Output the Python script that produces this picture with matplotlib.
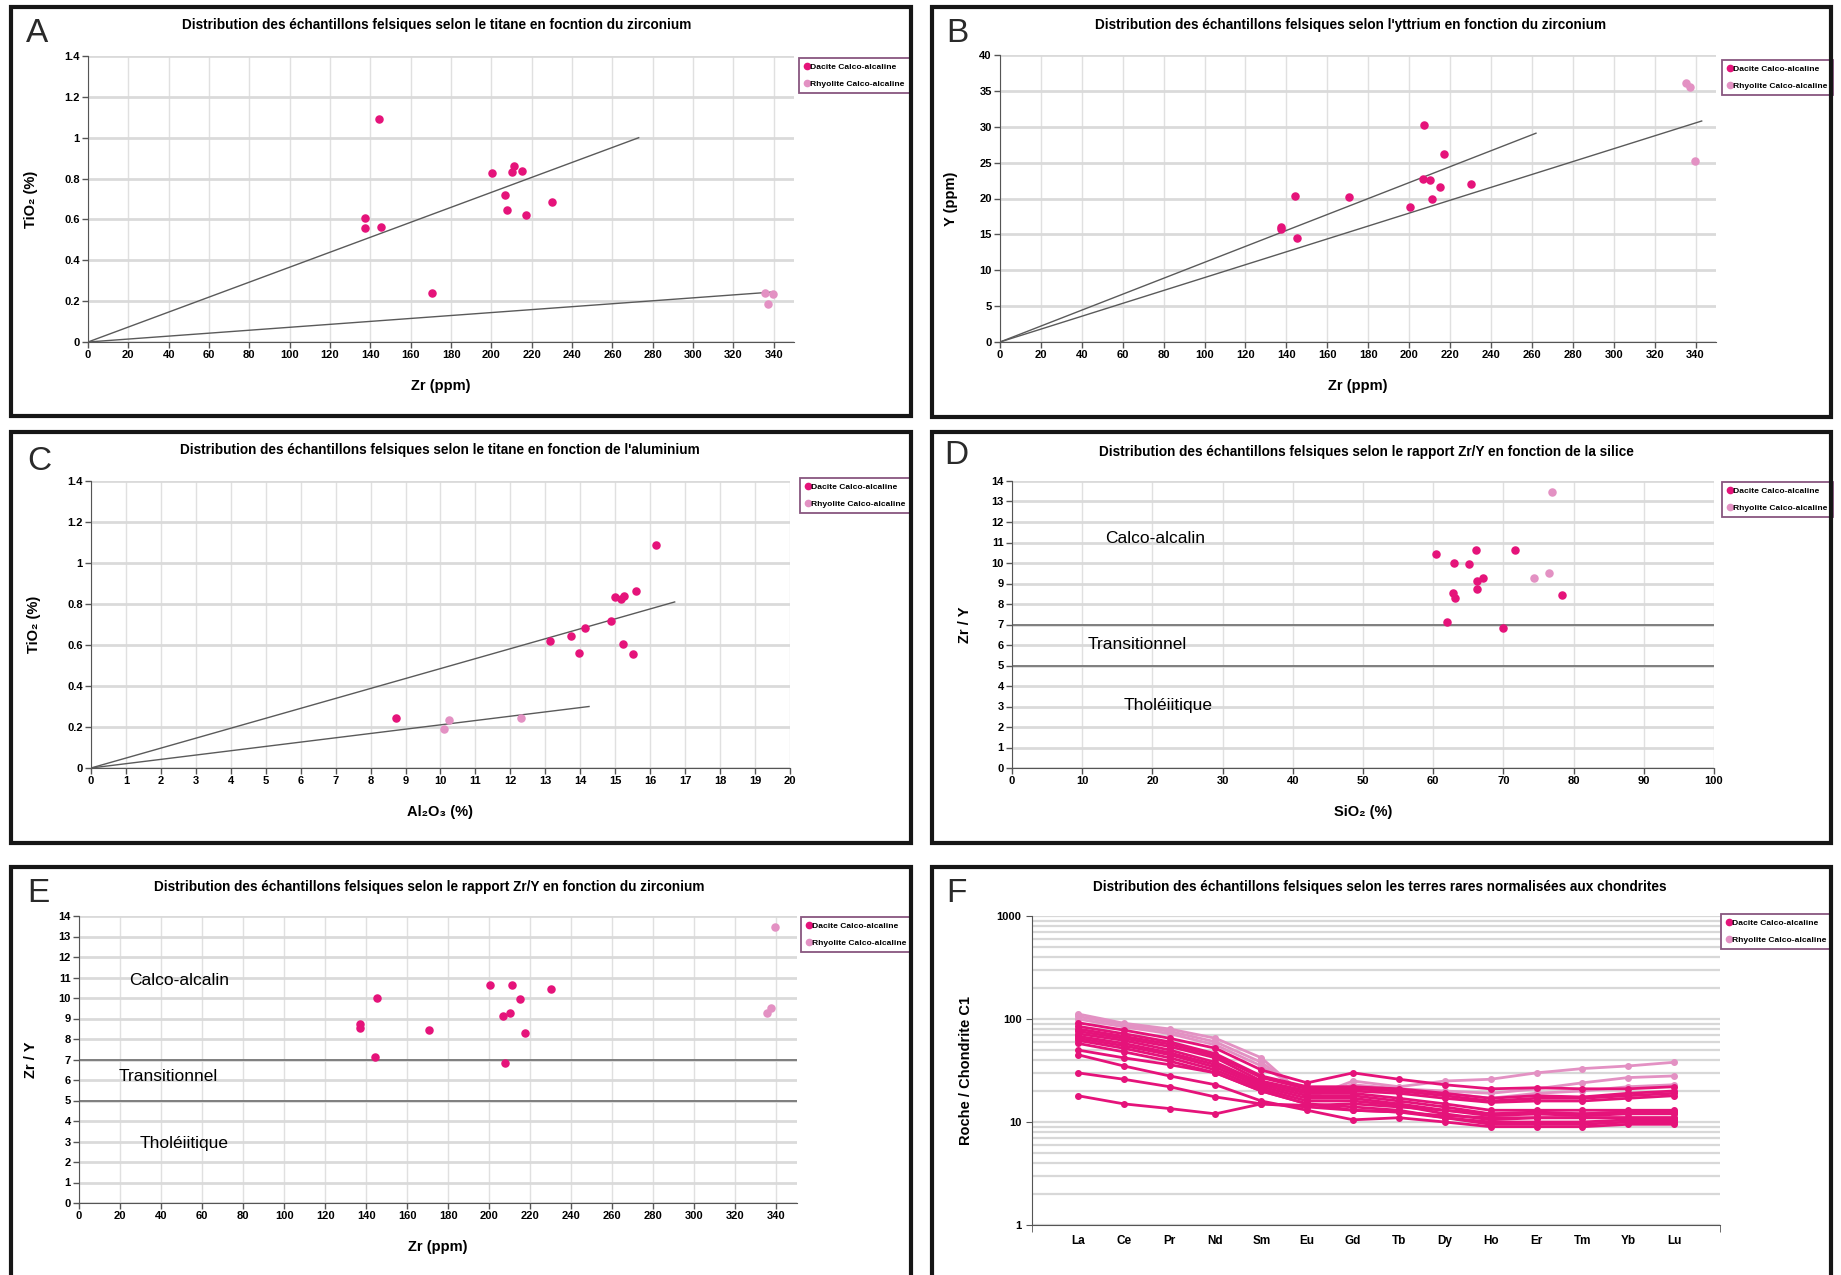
import matplotlib
matplotlib.use("Agg")
import matplotlib.pyplot as plt
from matplotlib import font_manager
from matplotlib.patches import Rectangle
from matplotlib.lines import Line2D
from matplotlib.ticker import LogLocator, NullFormatter
import numpy as np

# ---- data ----
# dacites calco-alcalines (13 samples)
dac_zr = [137.2, 137.2, 144.3, 145.2, 170.4, 200.3, 207.5, 206.9, 210.0, 211.2, 215.2, 217.2, 230.1]
dac_y = [16.05, 15.7, 20.3, 14.5, 20.2, 18.8, 30.3, 22.7, 22.6, 19.9, 21.6, 26.2, 22.0]
dac_tio2 = [0.605, 0.556, 1.09, 0.562, 0.242, 0.825, 0.645, 0.719, 0.833, 0.861, 0.838, 0.621, 0.685]
dac_al2o3 = [15.23, 15.5, 16.17, 13.97, 8.74, 15.16, 13.73, 14.87, 14.99, 15.6, 15.24, 13.14, 14.13]
dac_sio2 = [62.8, 66.2, 62.0, 62.9, 78.3, 66.1, 69.9, 66.2, 67.05, 71.7, 65.05, 63.1, 60.45]

# rhyolites calco-alcalines (3 samples)
rhy_zr = [335.4, 337.2, 339.5]
rhy_y = [36.1, 35.5, 25.2]
rhy_tio2 = [0.242, 0.188, 0.234]
rhy_al2o3 = [12.29, 10.1, 10.25]
rhy_sio2 = [74.4, 76.5, 76.9]

# reference lines (end points, all start at the origin)
lines_a = [(273, 1.0), (340, 0.245)]
lines_b = [(262, 29.1), (343, 30.8)]
lines_c = [(16.7, 0.81), (14.25, 0.30)]
zry_limits = [7, 5]
fields = ["Calco-alcalin", "Transitionnel", "Tholéiitique"]

# rare earths normalised to chondrite C1
ree = ["La", "Ce", "Pr", "Nd", "Sm", "Eu", "Gd", "Tb", "Dy", "Ho", "Er", "Tm", "Yb", "Lu"]
rhy_ree = [
    [112, 91, 80, 65, 42, 17, 25, 22, 25, 26, 30, 33, 35, 38],
    [106, 88, 76, 60, 38, 18, 23, 21, 20, 19, 21, 24, 27, 28],
    [100, 84, 72, 56, 35, 19, 22, 20, 19, 17, 19, 20, 22, 23],
]
dac_ree = [
    [92, 78, 65, 52, 32, 24, 30, 26, 23, 21, 21.5, 21, 21, 22],
    [85, 72, 60, 46, 28, 22, 22, 21, 19, 17, 18, 17.5, 19, 20],
    [80, 68, 57, 44, 27, 21, 21, 20, 18, 16, 17, 17, 18, 19],
    [76, 65, 54, 42, 25, 20, 20, 19, 17, 15.5, 16, 16, 17, 18],
    [72, 62, 50, 38, 24, 19, 19, 17, 15, 13, 13, 13, 13, 13],
    [68, 58, 47, 36, 23, 18, 18, 16, 14, 12, 12.5, 12, 12.5, 12.5],
    [65, 55, 45, 34, 22, 17, 17, 15, 13, 11.5, 12, 11.5, 12, 12],
    [62, 52, 42, 32, 21, 16, 16, 14.5, 12, 10.5, 11, 11, 11, 11],
    [58, 48, 39, 30, 20, 15, 14, 13, 11, 10, 10, 10, 10.5, 10.5],
    [50, 42, 36, 30, 20, 15, 13, 12.5, 11, 9.5, 9.5, 9.5, 10, 10],
    [45, 35, 28, 23, 16, 13, 10.5, 11, 10, 9, 9, 9, 9.5, 9.5],
    [30, 26, 22, 17.5, 15, 14.5, 15, 14, 13, 12, 12, 12, 12.5, 12.5],
    [18, 15, 13.5, 12, 15, 14, 13, 12.5, 11.5, 11, 11, 11, 11, 11],
]

DAC = "#e5137a"
RHY = "#e391c3"
labels = ["Dacite Calco-alcaline", "Rhyolite Calco-alcaline"]

names = {f.name for f in font_manager.fontManager.ttflist}
NARROW = "Liberation Sans Narrow" if "Liberation Sans Narrow" in names else "Liberation Sans"
plt.rcParams["font.family"] = [NARROW, "DejaVu Sans"]
plt.rcParams["font.weight"] = "bold"
plt.rcParams["axes.labelweight"] = "bold"

W, H = 1841, 1275
fig = plt.figure(figsize=(W / 100, H / 100), dpi=100)


def px_axes(l, t, r, b):
    return fig.add_axes([l / W, 1 - b / H, (r - l) / W, (b - t) / H])


def frame(l, t, r, b):
    fig.patches.append(Rectangle((l / W, 1 - b / H), (r - l) / W, (b - t) / H,
                                 transform=fig.transFigure, fill=False,
                                 lw=3, ec="#161616", zorder=10))


def header(letter, lx, ly, title, tx, ty):
    fig.text(lx / W, 1 - ly / H, letter, fontsize=24, fontweight="light",
             va="center", ha="left", color="#2a2a2a")
    fig.text(tx / W, 1 - ty / H, title, fontsize=9.8, fontweight="bold",
             ha="center", va="center")


def bold_ticks(ax):
    for lab in ax.get_xticklabels() + ax.get_yticklabels():
        lab.set_fontweight("bold")


def style(ax, xticks, xmax, yticks, ymax):
    ax.set_xlim(0, xmax)
    ax.set_ylim(0, ymax)
    ax.set_xticks(xticks)
    ax.set_yticks(yticks)
    ax.set_xticklabels([f"{v:g}" for v in xticks])
    ax.set_yticklabels([f"{v:g}" for v in yticks])
    ax.set_axisbelow(True)
    ax.grid(axis="y", color="#dadada", lw=2)
    ax.grid(axis="x", color="#e0e0e0", lw=1)
    for s in ["top", "right"]:
        ax.spines[s].set_visible(False)
    for s in ["left", "bottom"]:
        ax.spines[s].set_color("#555555")
    ax.tick_params(direction="out", length=4, width=1, color="#555555",
                   labelsize=8, pad=2)
    bold_ticks(ax)


def legend(ax, lx, ly):
    handles = [Line2D([], [], ls="none", marker="o", ms=4.5, color=DAC),
               Line2D([], [], ls="none", marker="o", ms=4.5, color=RHY)]
    leg = ax.legend(handles, labels, loc="upper left", bbox_to_anchor=(lx / W, 1 - ly / H),
                    bbox_transform=fig.transFigure, frameon=True,
                    fancybox=False, edgecolor="#6b2c5f", borderpad=0.6,
                    handletextpad=0.15, handlelength=0.6, labelspacing=1.05,
                    borderaxespad=0, prop={"weight": "bold", "size": 6.1})
    leg.get_frame().set_linewidth(1.3)


def scatter(ax, xd, yd, xr, yr):
    ax.scatter(xd, yd, s=26, color=DAC, zorder=3)
    ax.scatter(xr, yr, s=26, color=RHY, zorder=3)


def labels_at(ax, xl, yl, dy_px, dx_px, w_px, h_px):
    ax.set_xlabel(xl, fontsize=10.5, fontweight="bold")
    ax.set_ylabel(yl, fontsize=10.5, fontweight="bold")
    ax.xaxis.set_label_coords(0.5, -dy_px / h_px)
    ax.yaxis.set_label_coords(-dx_px / w_px, 0.5)


# ---- A ----
frame(11, 7, 911, 416)
header("A", 26, 34, "Distribution des échantillons felsiques selon le titane en focntion du zirconium", 437, 25)
ax = px_axes(88, 56, 794, 342)
style(ax, np.arange(0, 341, 20), 350, np.arange(0, 1.41, 0.2), 1.4)
for x1, y1 in lines_a:
    ax.plot([0, x1], [0, y1], color="#5a5a5a", lw=1)
scatter(ax, dac_zr, dac_tio2, rhy_zr, rhy_tio2)
labels_at(ax, "Zr (ppm)", "TiO₂ (%)", 37, 50, 706, 286)
legend(ax, 799, 58)

# ---- B ----
frame(932, 7, 1831, 417)
header("B", 946, 34, "Distribution des échantillons felsiques selon l'yttrium en fonction du zirconium", 1351, 25)
ax = px_axes(1000, 55, 1716, 342)
style(ax, np.arange(0, 341, 20), 350, np.arange(0, 41, 5), 40)
for x1, y1 in lines_b:
    ax.plot([0, x1], [0, y1], color="#5a5a5a", lw=1)
scatter(ax, dac_zr, dac_y, rhy_zr, rhy_y)
labels_at(ax, "Zr (ppm)", "Y (ppm)", 37, 42, 716, 287)
legend(ax, 1722, 60)

# ---- C ----
frame(11, 432, 911, 843)
header("C", 27, 462, "Distribution des échantillons felsiques selon le titane en fonction de l'aluminium", 440, 450)
ax = px_axes(91, 481, 790, 768)
style(ax, np.arange(0, 21, 1), 20, np.arange(0, 1.41, 0.2), 1.4)
for x1, y1 in lines_c:
    ax.plot([0, x1], [0, y1], color="#5a5a5a", lw=1)
scatter(ax, dac_al2o3, dac_tio2, rhy_al2o3, rhy_tio2)
labels_at(ax, "Al₂O₃ (%)", "TiO₂ (%)", 37, 50, 699, 287)
legend(ax, 800, 478)

# ---- D ----
frame(932, 432, 1831, 843)
header("D", 944, 456, "Distribution des échantillons felsiques selon le rapport Zr/Y en fonction de la silice", 1366, 452)
ax = px_axes(1012, 481, 1714, 768)
style(ax, np.arange(0, 101, 10), 100, np.arange(0, 15, 1), 14)
for v in zry_limits:
    ax.axhline(v, color="#777777", lw=1.3)
scatter(ax, dac_sio2, np.array(dac_zr) / np.array(dac_y),
        rhy_sio2, np.array(rhy_zr) / np.array(rhy_y))
for txt, (fx, fy) in zip(fields, [(20.4, 11.2), (17.9, 6.0), (22.3, 3.05)]):
    ax.text(fx, fy, txt, fontsize=12.5, fontweight="normal", ha="center", va="center")
labels_at(ax, "SiO₂ (%)", "Zr / Y", 37, 40, 702, 287)
legend(ax, 1722, 482)

# ---- E ----
frame(11, 867, 911, 1300)
header("E", 27, 893, "Distribution des échantillons felsiques selon le rapport Zr/Y en fonction du zirconium", 429, 887)
ax = px_axes(79, 916, 797, 1203)
style(ax, np.arange(0, 341, 20), 350, np.arange(0, 15, 1), 14)
for v in zry_limits:
    ax.axhline(v, color="#777777", lw=1.3)
scatter(ax, dac_zr, np.array(dac_zr) / np.array(dac_y),
        rhy_zr, np.array(rhy_zr) / np.array(rhy_y))
for txt, (fx, fy) in zip(fields, [(48.7, 10.85), (43.5, 6.15), (51.3, 2.9)]):
    ax.text(fx, fy, txt, fontsize=12.5, fontweight="normal", ha="center", va="center")
labels_at(ax, "Zr (ppm)", "Zr / Y", 37, 41, 718, 287)
legend(ax, 801, 917)

# ---- F ----
frame(932, 867, 1831, 1300)
header("F", 946, 893, "Distribution des échantillons felsiques selon les terres rares normalisées aux chondrites", 1380, 887)
ax = px_axes(1032, 916, 1720, 1225)
x = np.arange(len(ree))
for row in rhy_ree:
    ax.plot(x, row, color=RHY, lw=2, marker="o", ms=4)
for row in dac_ree:
    ax.plot(x, row, color=DAC, lw=2, marker="o", ms=4)
ax.set_yscale("log")
ax.set_ylim(1, 1000)
ax.set_xlim(-1, 14)
ax.set_xticks(x)
ax.set_xticklabels(ree)
ax.set_xticks([-1, 14], minor=True)
ax.set_yticks([1, 10, 100, 1000])
ax.set_yticklabels(["1", "10", "100", "1000"])
ax.yaxis.set_minor_locator(LogLocator(base=10, subs=np.arange(2, 10)))
ax.yaxis.set_minor_formatter(NullFormatter())
ax.set_axisbelow(True)
ax.grid(axis="y", which="both", color="#d8d8d8", lw=1.6)
for s in ["top", "right"]:
    ax.spines[s].set_visible(False)
for s in ["left", "bottom"]:
    ax.spines[s].set_color("#555555")
ax.tick_params(axis="x", which="major", length=0, labelsize=8.5, pad=7)
ax.tick_params(axis="x", which="minor", length=5, color="#555555")
ax.tick_params(axis="y", which="major", length=4, color="#555555", labelsize=8)
ax.tick_params(axis="y", which="minor", length=0)
bold_ticks(ax)
ax.set_ylabel("Roche / Chondrite C1", fontsize=10.5, fontweight="bold",
              family=["Liberation Sans", "DejaVu Sans"])
ax.yaxis.set_label_coords(-59 / 688, 0.5)
legend(ax, 1721, 914)

fig.savefig("out.png", dpi=100, facecolor="white")
